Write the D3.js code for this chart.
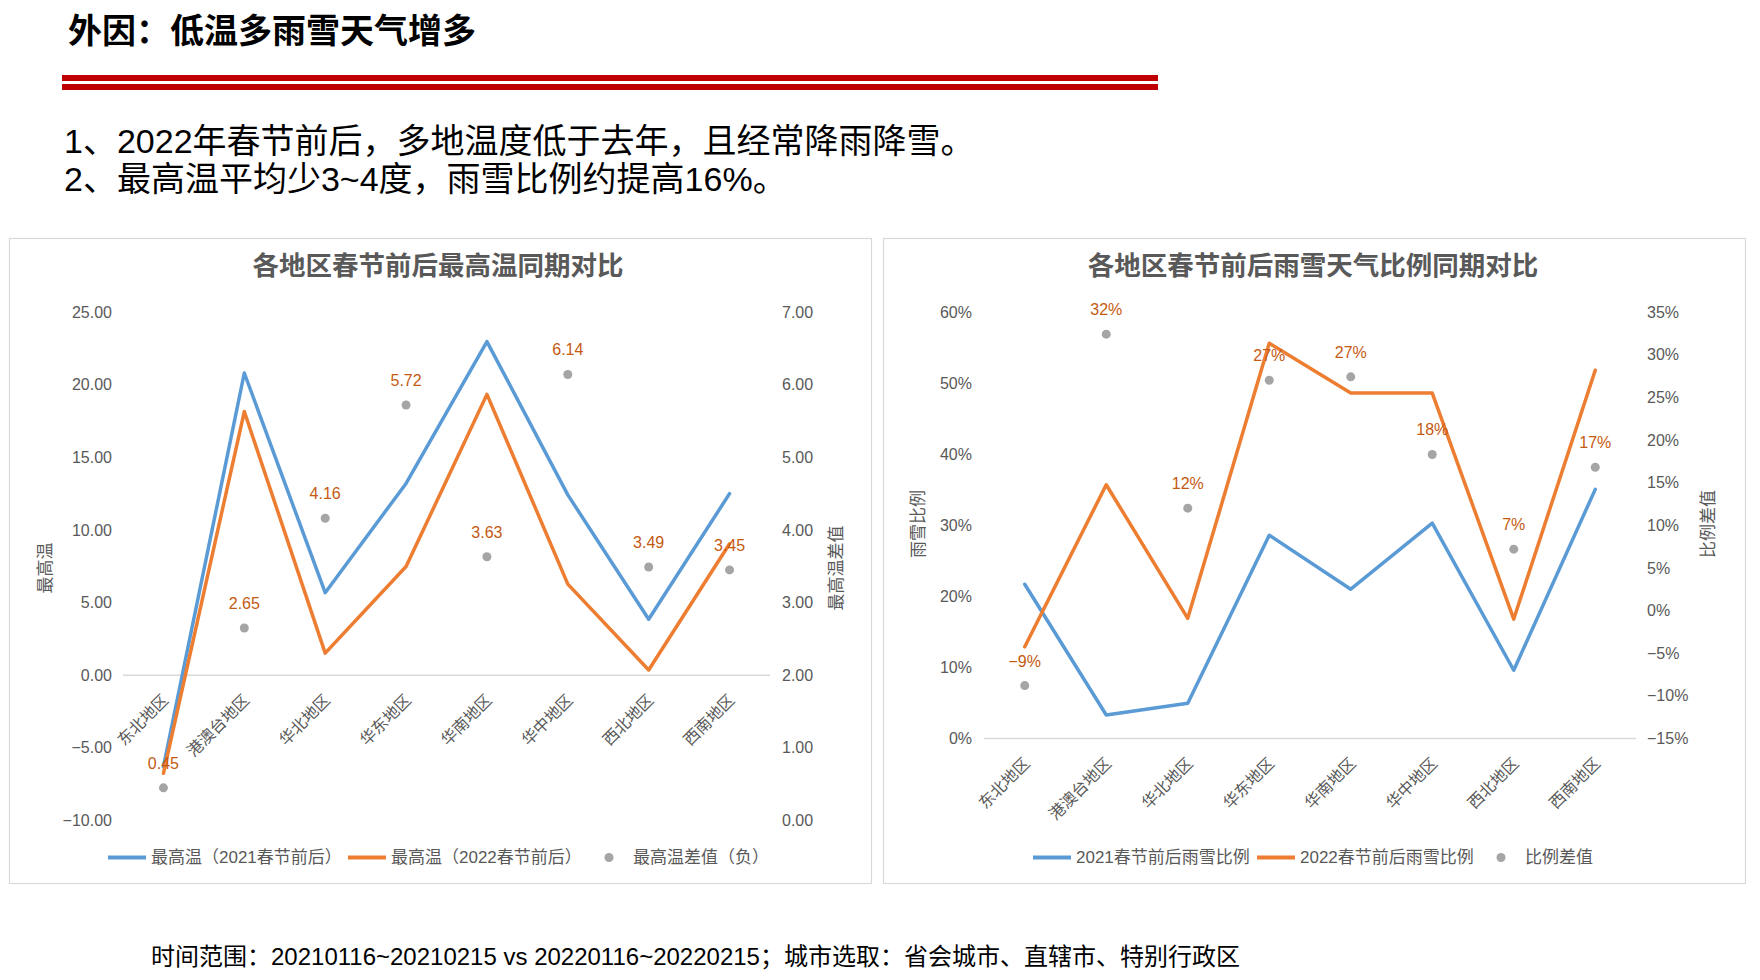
<!DOCTYPE html>
<html>
<head>
<meta charset="utf-8">
<script src="https://cdn.jsdelivr.net/npm/d3@7"></script>
<style>
  html, body { margin: 0; padding: 0; background: #fff; }
  svg { display: block; }
  text { font-family: "Liberation Sans", "Noto Sans CJK SC", sans-serif; }
</style>
</head>
<body>
<svg id="chart" width="1760" height="980"></svg>
<script>
// ---------------- data ----------------
const pageTitle = "外因：低温多雨雪天气增多";
const bulletLines = [
  "1、2022年春节前后，多地温度低于去年，且经常降雨降雪。",
  "2、最高温平均少3~4度，雨雪比例约提高16%。"
];
const footnote = "时间范围：20210116~20210215 vs 20220116~20220215；城市选取：省会城市、直辖市、特别行政区";

const categories = ["东北地区", "港澳台地区", "华北地区", "华东地区", "华南地区", "华中地区", "西北地区", "西南地区"];

// chart 1: 最高温
const tempTitle = "各地区春节前后最高温同期对比";
const temp2021 = [-6.3, 20.8, 5.68, 13.2, 22.96, 12.41, 3.85, 12.5];
const temp2022 = [-6.75, 18.15, 1.52, 7.48, 19.33, 6.27, 0.36, 9.05];
const tempDiff = [0.45, 2.65, 4.16, 5.72, 3.63, 6.14, 3.49, 3.45];
const tempLeftTicks = [-10, -5, 0, 5, 10, 15, 20, 25];
const tempRightTicks = [0, 1, 2, 3, 4, 5, 6, 7];
const tempSeriesNames = ["最高温（2021春节前后）", "最高温（2022春节前后）", "最高温差值（负）"];
const tempAxisTitles = ["最高温", "最高温差值"];

// chart 2: 雨雪比例
const rainTitle = "各地区春节前后雨雪天气比例同期对比";
const rain2021 = [0.217, 0.033, 0.0495, 0.286, 0.210, 0.303, 0.096, 0.3505];
const rain2022 = [0.129, 0.357, 0.169, 0.556, 0.486, 0.486, 0.168, 0.518];
const rainDiff = [-0.088, 0.324, 0.120, 0.270, 0.274, 0.183, 0.072, 0.168];
const rainLeftTicks = [0, 0.1, 0.2, 0.3, 0.4, 0.5, 0.6];
const rainRightTicks = [-0.15, -0.10, -0.05, 0, 0.05, 0.10, 0.15, 0.20, 0.25, 0.30, 0.35];
const rainSeriesNames = ["2021春节前后雨雪比例", "2022春节前后雨雪比例", "比例差值"];
const rainAxisTitles = ["雨雪比例", "比例差值"];

// ---------------- style ----------------
const C_BLUE = "#5B9BD5", C_ORANGE = "#ED7D31", C_GRAY = "#A5A5A5";
const C_LABEL = "#C55A11", C_TEXT = "#595959", C_GRID = "#D9D9D9";

const svg = d3.select("#chart");
svg.append("rect").attr("width", 1760).attr("height", 980).attr("fill", "#fff");

// header
svg.append("text").attr("x", 68).attr("y", 43).attr("font-size", 34).attr("font-weight", "bold")
  .attr("fill", "#000").text(pageTitle);
svg.append("rect").attr("x", 62).attr("y", 75).attr("width", 1096).attr("height", 6).attr("fill", "#C00000");
svg.append("rect").attr("x", 62).attr("y", 84).attr("width", 1096).attr("height", 6).attr("fill", "#C00000");
svg.selectAll("text.bullet").data(bulletLines).join("text").attr("class", "bullet")
  .attr("x", 64).attr("y", (d, i) => 153 + i * 38).attr("font-size", 34).attr("fill", "#000").text(d => d);
svg.append("text").attr("x", 151).attr("y", 965).attr("font-size", 24).attr("fill", "#000").text(footnote);

function drawChart(cfg) {
  const g = svg.append("g");
  g.append("rect").attr("x", cfg.panel[0] + 0.5).attr("y", cfg.panel[1] + 0.5)
    .attr("width", cfg.panel[2]).attr("height", cfg.panel[3])
    .attr("fill", "#fff").attr("stroke", C_GRID).attr("stroke-width", 1.2);
  g.append("text").attr("x", cfg.titleX).attr("y", 275).attr("text-anchor", "middle")
    .attr("font-size", 26.5).attr("font-weight", "bold").attr("fill", C_TEXT).text(cfg.title);

  const x = d3.scaleBand().domain(categories).range(cfg.xRange);
  const cx = c => x(c) + x.bandwidth() / 2;
  const yL = d3.scaleLinear().domain(cfg.leftDomain).range(cfg.yRange);
  const yR = d3.scaleLinear().domain(cfg.rightDomain).range(cfg.yRange);

  // left axis
  const axL = g.append("g").attr("transform", `translate(${cfg.leftLabelX},0)`)
    .call(d3.axisLeft(yL).tickValues(cfg.leftTicks).tickFormat(cfg.leftFmt).tickSize(0).tickPadding(0));
  axL.select(".domain").remove();
  axL.selectAll("text").attr("font-size", 16).attr("fill", C_TEXT).attr("font-family", null);
  // right axis
  const axR = g.append("g").attr("transform", `translate(${cfg.rightLabelX},0)`)
    .call(d3.axisRight(yR).tickValues(cfg.rightTicks).tickFormat(cfg.rightFmt).tickSize(0).tickPadding(0));
  axR.select(".domain").remove();
  axR.selectAll("text").attr("font-size", 16).attr("fill", C_TEXT).attr("font-family", null);

  // zero line (category axis)
  const y0 = yL(0);
  g.append("line").attr("x1", cfg.xRange[0]).attr("x2", cfg.xRange[1]).attr("y1", y0).attr("y2", y0)
    .attr("stroke", C_GRID).attr("stroke-width", 1.5);

  // category labels
  g.selectAll("text.cat").data(categories).join("text").attr("class", "cat")
    .attr("transform", d => `translate(${cx(d) + 2},${y0 + 22}) rotate(-45)`)
    .attr("text-anchor", "end").attr("dy", "0.35em")
    .attr("font-size", 16).attr("fill", C_TEXT).text(d => d);

  // axis titles
  g.append("text").attr("transform", `translate(${cfg.axisTitleX[0]},${cfg.axisTitleY}) rotate(-90)`)
    .attr("text-anchor", "middle").attr("dy", "0.35em").attr("font-size", 17).attr("fill", C_TEXT).text(cfg.axisTitles[0]);
  g.append("text").attr("transform", `translate(${cfg.axisTitleX[1]},${cfg.axisTitleY}) rotate(-90)`)
    .attr("text-anchor", "middle").attr("dy", "0.35em").attr("font-size", 17).attr("fill", C_TEXT).text(cfg.axisTitles[1]);

  // lines
  const line = d3.line().x((d, i) => cx(categories[i])).y(d => yL(d));
  g.append("path").datum(cfg.s1).attr("d", line).attr("fill", "none").attr("stroke", C_BLUE)
    .attr("stroke-width", 3.5).attr("stroke-linejoin", "round").attr("stroke-linecap", "round");
  g.append("path").datum(cfg.s2).attr("d", line).attr("fill", "none").attr("stroke", C_ORANGE)
    .attr("stroke-width", 3.5).attr("stroke-linejoin", "round").attr("stroke-linecap", "round");

  // dots + labels
  g.selectAll("circle.dot").data(cfg.s3).join("circle").attr("class", "dot")
    .attr("cx", (d, i) => cx(categories[i])).attr("cy", d => yR(d)).attr("r", 4.5).attr("fill", C_GRAY);
  g.selectAll("text.lbl").data(cfg.s3).join("text").attr("class", "lbl")
    .attr("x", (d, i) => cx(categories[i])).attr("y", d => yR(d) - 19)
    .attr("text-anchor", "middle").attr("font-size", 16).attr("fill", C_LABEL).text(cfg.labelFmt);

  // legend
  const ly = 857.5;
  const lg = g.append("g");
  lg.append("line").attr("x1", cfg.legendX[0]).attr("x2", cfg.legendX[0] + 38).attr("y1", ly).attr("y2", ly)
    .attr("stroke", C_BLUE).attr("stroke-width", 4);
  lg.append("text").attr("x", cfg.legendX[0] + 43).attr("y", ly).attr("dy", "0.35em").attr("font-size", 17)
    .attr("fill", C_TEXT).text(cfg.names[0]);
  lg.append("line").attr("x1", cfg.legendX[1]).attr("x2", cfg.legendX[1] + 38).attr("y1", ly).attr("y2", ly)
    .attr("stroke", C_ORANGE).attr("stroke-width", 4);
  lg.append("text").attr("x", cfg.legendX[1] + 43).attr("y", ly).attr("dy", "0.35em").attr("font-size", 17)
    .attr("fill", C_TEXT).text(cfg.names[1]);
  lg.append("circle").attr("cx", cfg.legendX[2]).attr("cy", ly).attr("r", 4.5).attr("fill", C_GRAY);
  lg.append("text").attr("x", cfg.legendX[2] + 24).attr("y", ly).attr("dy", "0.35em").attr("font-size", 17)
    .attr("fill", C_TEXT).text(cfg.names[2]);
}

drawChart({
  panel: [9, 238, 862, 645], titleX: 438, title: tempTitle,
  xRange: [123, 770], yRange: [820.5, 312],
  leftDomain: [-10, 25], rightDomain: [0, 7],
  leftTicks: tempLeftTicks, rightTicks: tempRightTicks,
  leftFmt: d3.format(".2f"), rightFmt: d3.format(".2f"),
  leftLabelX: 112, rightLabelX: 782,
  axisTitleX: [45, 836], axisTitleY: 568, axisTitles: tempAxisTitles,
  s1: temp2021, s2: temp2022, s3: tempDiff, labelFmt: d3.format(".2f"),
  legendX: [108, 348, 609], names: tempSeriesNames
});

drawChart({
  panel: [883, 238, 862, 645], titleX: 1313, title: rainTitle,
  xRange: [984, 1636], yRange: [738.5, 312],
  leftDomain: [0, 0.6], rightDomain: [-0.15, 0.35],
  leftTicks: rainLeftTicks, rightTicks: rainRightTicks,
  leftFmt: d3.format(".0%"), rightFmt: d3.format(".0%"),
  leftLabelX: 972, rightLabelX: 1647,
  axisTitleX: [918, 1708], axisTitleY: 524, axisTitles: rainAxisTitles,
  s1: rain2021, s2: rain2022, s3: rainDiff, labelFmt: d => d3.format(".0f")(d * 100) + "%",
  legendX: [1033, 1257, 1501], names: rainSeriesNames
});
</script>
</body>
</html>
